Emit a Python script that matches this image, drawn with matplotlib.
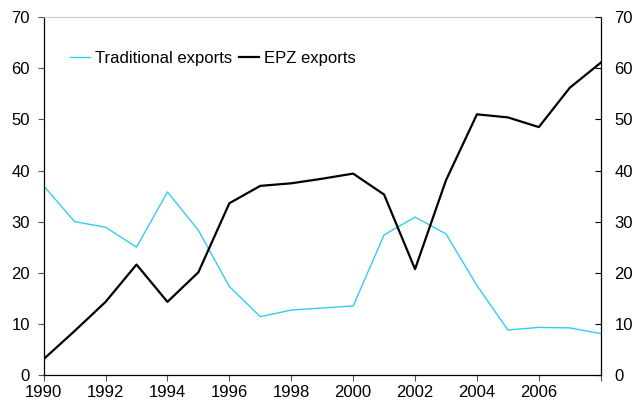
import matplotlib
matplotlib.use('Agg')
import matplotlib.pyplot as plt

years = list(range(1990, 2009))
traditional = [37.0, 30.0, 28.9, 25.0, 35.8, 28.3, 17.3, 11.4, 12.7, 13.1,
               13.5, 27.4, 30.9, 27.6, 17.5, 8.8, 9.3, 9.2, 8.1]
epz = [3.1, 8.6, 14.3, 21.6, 14.3, 20.1, 33.6, 37.0, 37.5, 38.4,
       39.4, 35.3, 20.7, 38.1, 51.0, 50.4, 48.5, 56.2, 61.1]
yticks = [0, 10, 20, 30, 40, 50, 60, 70]
xticks = list(range(1990, 2009, 2))
xlabels = [str(y) for y in range(1990, 2007, 2)] + ['']

plt.rcParams['font.family'] = ['Liberation Sans', 'DejaVu Sans']

fig = plt.figure(figsize=[6.33, 4.01], dpi=100)
ax = fig.add_axes([0.069, 0.065, 0.88, 0.892])
ax.plot(years, traditional, color='#33ccf5', lw=1.0, label='Traditional exports')
ax.plot(years, epz, color='black', lw=1.6, label='EPZ exports')

ax.set_xlim(1990, 2008)
ax.set_ylim(0, 70)
ax.set_xticks(xticks)
ax.set_xticklabels(xlabels)
ax.set_yticks(yticks)
ax.tick_params(axis='both', labelsize=12, length=4, width=0.8, color='#555555')
ax.tick_params(axis='x', pad=3)
ax.tick_params(axis='y', pad=6)
for s in ['left', 'bottom', 'right']:
    ax.spines[s].set_color('black')
    ax.spines[s].set_linewidth(0.9)
ax.spines['top'].set_color('#cccccc')
ax.spines['top'].set_linewidth(0.8)

ax2 = ax.twinx()
ax2.set_ylim(0, 70)
ax2.set_yticks(yticks)
ax2.tick_params(axis='y', direction='in', labelsize=12, length=4, width=0.8, pad=10)
for s in ax2.spines.values():
    s.set_visible(False)

ax.legend(loc='upper left', bbox_to_anchor=(0.035, 0.925), ncol=2, frameon=False,
          fontsize=12, handlelength=1.2, handletextpad=0.3, columnspacing=0.4,
          borderaxespad=0)

fig.savefig('out.png', dpi=100)
